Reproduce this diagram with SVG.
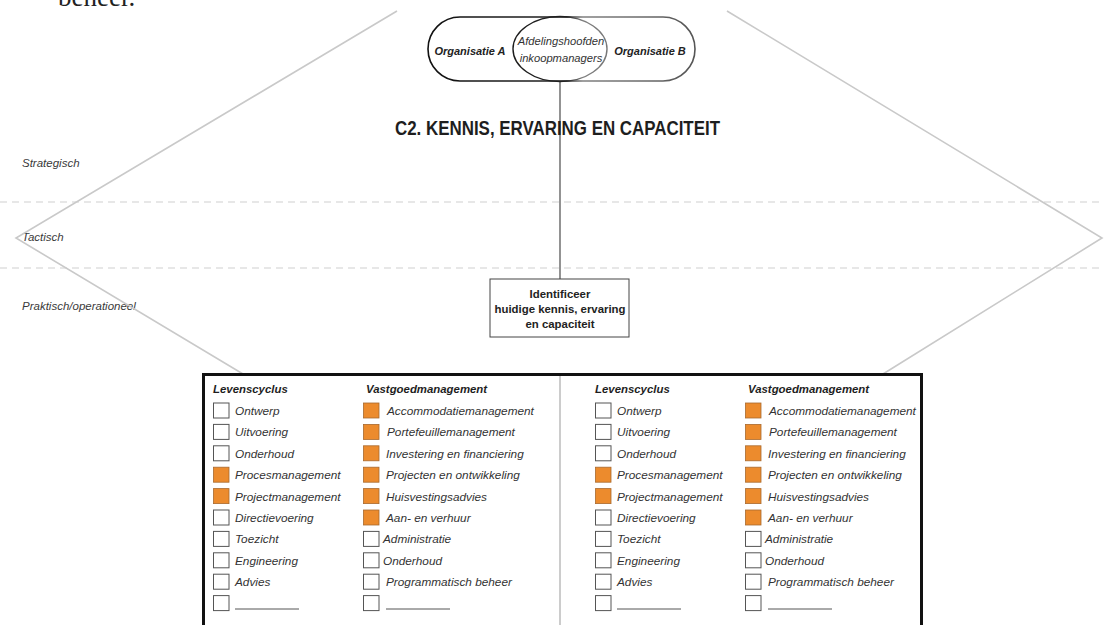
<svg xmlns="http://www.w3.org/2000/svg" width="1104" height="625" viewBox="0 0 1104 625">
  <style>
    .guide { stroke: #c9c9c9; stroke-width: 1.6; fill: none; }
    .dash { stroke: #cfcfcf; stroke-width: 1; stroke-dasharray: 7 5; fill: none; }
    .level { font-family: "Liberation Sans", Arial, sans-serif; font-size: 11.5px; font-style: italic; fill: #3a3a3a; }
    .org { font-family: "Liberation Sans", Arial, sans-serif; font-size: 11px; font-style: italic; font-weight: bold; fill: #222; text-anchor: middle; }
    .orgmid { font-family: "Liberation Sans", Arial, sans-serif; font-size: 11.2px; font-style: italic; fill: #333; text-anchor: middle; }
    .title { font-family: "Liberation Sans", Arial, sans-serif; font-size: 20px; font-weight: bold; fill: #1e1e1e; }
    .boxtxt { font-family: "Liberation Sans", Arial, sans-serif; font-size: 11.4px; font-weight: bold; fill: #222; text-anchor: middle; }
    .head { font-family: "Liberation Sans", Arial, sans-serif; font-size: 11.4px; font-style: italic; font-weight: bold; fill: #1e1e1e; }
    .item { font-family: "Liberation Sans", Arial, sans-serif; font-size: 11.8px; font-style: italic; fill: #333; }
    .off { fill: #fff; stroke: #555; stroke-width: 1; }
    .on { fill: #ec8b2d; stroke: #a9692d; stroke-width: 0.8; }
    .blank { stroke: #555; stroke-width: 1; }
    .conn { stroke: #3a3a3a; stroke-width: 1.1; fill: none; }
  </style>
  <defs>
    <linearGradient id="pillStroke" gradientUnits="userSpaceOnUse" x1="428" y1="0" x2="695" y2="0">
      <stop offset="0" stop-color="#111"/>
      <stop offset="0.52" stop-color="#222"/>
      <stop offset="0.58" stop-color="#808080"/>
      <stop offset="1" stop-color="#555"/>
    </linearGradient>
    <!-- one checklist block, reused for both halves of the table -->
    <g id="checklist">
      <text class="head" x="213" y="393">Levenscyclus</text>
      <text class="head" x="366" y="393">Vastgoedmanagement</text>
      <rect class="off" x="213.5" y="403" width="15.5" height="15"/>
      <rect class="off" x="213.5" y="424.4" width="15.5" height="15"/>
      <rect class="off" x="213.5" y="445.8" width="15.5" height="15"/>
      <rect class="on" x="213.5" y="467.2" width="15.5" height="15"/>
      <rect class="on" x="213.5" y="488.6" width="15.5" height="15"/>
      <rect class="off" x="213.5" y="510" width="15.5" height="15"/>
      <rect class="off" x="213.5" y="531.4" width="15.5" height="15"/>
      <rect class="off" x="213.5" y="552.8" width="15.5" height="15"/>
      <rect class="off" x="213.5" y="574.2" width="15.5" height="15"/>
      <rect class="off" x="213.5" y="595.6" width="15.5" height="15"/>
      <text class="item" x="235" y="415">Ontwerp</text>
      <text class="item" x="235" y="436.4">Uitvoering</text>
      <text class="item" x="235" y="457.8">Onderhoud</text>
      <text class="item" x="235" y="479.2">Procesmanagement</text>
      <text class="item" x="235" y="500.6">Projectmanagement</text>
      <text class="item" x="235" y="522">Directievoering</text>
      <text class="item" x="235" y="543.4">Toezicht</text>
      <text class="item" x="235" y="564.8">Engineering</text>
      <text class="item" x="235" y="586.2">Advies</text>
      <line class="blank" x1="235" y1="609" x2="299" y2="609"/>
      <rect class="on" x="363.5" y="403" width="15.5" height="15"/>
      <rect class="on" x="363.5" y="424.4" width="15.5" height="15"/>
      <rect class="on" x="363.5" y="445.8" width="15.5" height="15"/>
      <rect class="on" x="363.5" y="467.2" width="15.5" height="15"/>
      <rect class="on" x="363.5" y="488.6" width="15.5" height="15"/>
      <rect class="on" x="363.5" y="510" width="15.5" height="15"/>
      <rect class="off" x="363.5" y="531.4" width="15.5" height="15"/>
      <rect class="off" x="363.5" y="552.8" width="15.5" height="15"/>
      <rect class="off" x="363.5" y="574.2" width="15.5" height="15"/>
      <rect class="off" x="363.5" y="595.6" width="15.5" height="15"/>
      <text class="item" x="387" y="415">Accommodatiemanagement</text>
      <text class="item" x="387" y="436.4">Portefeuillemanagement</text>
      <text class="item" x="386" y="457.8">Investering en financiering</text>
      <text class="item" x="386" y="479.2">Projecten en ontwikkeling</text>
      <text class="item" x="386" y="500.6">Huisvestingsadvies</text>
      <text class="item" x="386" y="522">Aan- en verhuur</text>
      <text class="item" x="383" y="543.4">Administratie</text>
      <text class="item" x="383" y="564.8">Onderhoud</text>
      <text class="item" x="386" y="586.2">Programmatisch beheer</text>
      <line class="blank" x1="386" y1="609" x2="450" y2="609"/>
    </g>
  </defs>

  <rect width="1104" height="625" fill="#fff"/>

  <!-- running text from the page above -->
  <text x="58" y="6" font-family="'Liberation Serif', 'Times New Roman', serif" font-size="27" fill="#222">beheer.</text>

  <!-- level bands -->
  <g id="levels">
    <line class="dash" x1="0" y1="202" x2="1104" y2="202"/>
    <line class="dash" x1="0" y1="268" x2="1104" y2="268"/>
    <text class="level" x="22" y="167">Strategisch</text>
    <text class="level" x="22" y="241">Tactisch</text>
    <text class="level" x="22" y="310">Praktisch/operationeel</text>
  </g>

  <!-- funnel guide lines -->
  <g id="funnel">
    <polyline class="guide" points="397,11 16,238 243,374"/>
    <polyline class="guide" points="727,11 1102,238 883,374"/>
  </g>

  <!-- connectors -->
  <g id="connectors">
    <line class="conn" x1="560" y1="82" x2="560" y2="279"/>
  </g>

  <!-- title -->
  <text class="title" x="395" y="135" textLength="325" lengthAdjust="spacingAndGlyphs">C2. KENNIS, ERVARING EN CAPACITEIT</text>

  <!-- organisations -->
  <g id="organisations">
    <rect x="428" y="17" width="267" height="64" rx="32" ry="32" fill="none" stroke="url(#pillStroke)" stroke-width="1.6"/>
    <ellipse cx="560" cy="49" rx="47" ry="32.5" fill="none" stroke="url(#pillStroke)" stroke-width="1.4"/>
    <text class="org" x="470" y="55">Organisatie A</text>
    <text class="org" x="650" y="55">Organisatie B</text>
    <text class="orgmid" x="561" y="45">Afdelingshoofden</text>
    <text class="orgmid" x="561" y="62">inkoopmanagers</text>
  </g>

  <!-- action box -->
  <g id="identify">
    <rect x="490" y="279" width="139" height="58" fill="#fff" stroke="#444" stroke-width="1"/>
    <text class="boxtxt" x="560" y="298">Identificeer</text>
    <text class="boxtxt" x="560" y="313">huidige kennis, ervaring</text>
    <text class="boxtxt" x="560" y="328">en capaciteit</text>
  </g>

  <!-- competence table -->
  <g id="table">
    <rect x="203.5" y="374.5" width="718" height="270" fill="#fff" stroke="#111" stroke-width="3"/>
    <line x1="560" y1="376" x2="560" y2="625" stroke="#999" stroke-width="1"/>
    <g id="orgA-list">
      <use href="#checklist"/>
    </g>
    <g id="orgB-list">
      <use href="#checklist" transform="translate(382,0)"/>
    </g>
  </g>
</svg>
